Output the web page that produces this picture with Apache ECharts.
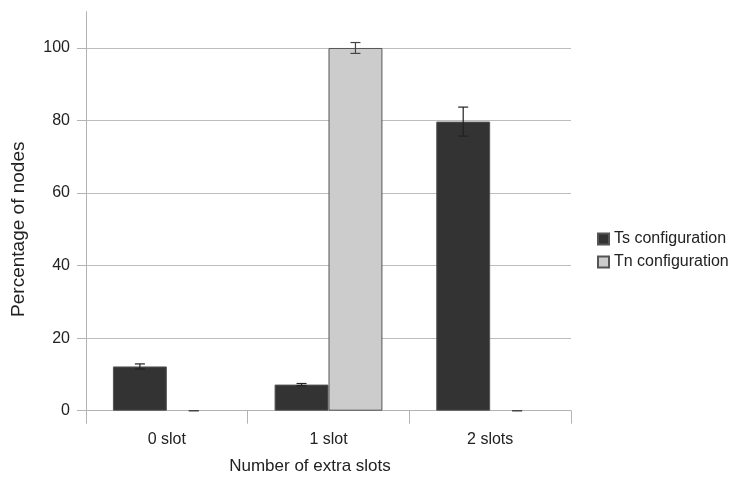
<!DOCTYPE html>
<html><head><meta charset="utf-8">
<script src="https://cdn.jsdelivr.net/npm/echarts@6/dist/echarts.min.js"></script>
<style>html,body{margin:0;padding:0;background:#fff}#c{width:729px;height:477px}</style>
</head><body><div id="c"></div>
<script>
var categories = ['0 slot', '1 slot', '2 slots'];
var tsValues = [12.2, 7.2, 79.7];
var tsErrors = [0.7, 0.3, 4.0];
var tnValues = [0, 100, 0];
var tnErrors = [0, 1.5, 0];
var seriesNames = ['Ts configuration', 'Tn configuration'];
var yTicks = [0, 20, 40, 60, 80, 100];

var FONT = 'Liberation Sans';
var GAP = 0.333;

function barData(values) {
  return values.map(function (v) {
    return v === 0 ? { value: v, itemStyle: { borderWidth: 0 } } : v;
  });
}

function errorSeries(values, errors, side, color) {
  return {
    type: 'custom',
    silent: true,
    z: 5,
    data: values.map(function (v, i) { return [i, v - errors[i], v + errors[i]]; }),
    renderItem: function (params, api) {
      var band = api.size([1, 0])[0];
      var bw = band * (1 - GAP) / 2;
      var lo = api.coord([api.value(0), api.value(1)]);
      var hi = api.coord([api.value(0), api.value(2)]);
      var x = lo[0] + side * bw / 2;
      var cap = 10;
      var st = { stroke: color, lineWidth: 1.2 };
      return { type: 'group', children: [
        { type: 'line', shape: { x1: x, y1: lo[1], x2: x, y2: hi[1] }, style: st },
        { type: 'line', shape: { x1: x - cap / 2, y1: lo[1], x2: x + cap / 2, y2: lo[1] }, style: st },
        { type: 'line', shape: { x1: x - cap / 2, y1: hi[1], x2: x + cap / 2, y2: hi[1] }, style: st }
      ]};
    }
  };
}

var chart = echarts.init(document.getElementById('c'));
chart.setOption({
  animation: false,
  backgroundColor: '#ffffff',
  textStyle: { fontFamily: FONT },
  grid: { left: 86, right: 158, top: 11.7, bottom: 66.3, containLabel: false, outerBoundsMode: 'none' },
  legend: {
    orient: 'vertical', left: 592, top: 226,
    itemWidth: 11, itemHeight: 11, itemGap: 7,
    icon: 'rect',
    textStyle: { fontFamily: FONT, fontSize: 16, color: '#222' },
    data: seriesNames
  },
  xAxis: {
    type: 'category', data: categories,
    name: 'Number of extra slots', nameLocation: 'middle', nameGap: 47,
    nameTextStyle: { fontFamily: FONT, fontSize: 17, color: '#222', padding: [0, 37, 0, 0] },
    axisLine: { lineStyle: { color: '#b3b3b3', width: 1 } },
    axisTick: { show: true, length: 13, lineStyle: { color: '#b3b3b3' } },
    axisLabel: { margin: 21, fontFamily: FONT, fontSize: 16, color: '#222' }
  },
  yAxis: {
    type: 'value', min: 0, max: 110, interval: 20,
    name: 'Percentage of nodes', nameLocation: 'middle', nameGap: 58,
    nameTextStyle: { fontFamily: FONT, fontSize: 19, color: '#222', padding: [0, 36, 0, 0] },
    axisLine: { show: true, lineStyle: { color: '#b3b3b3', width: 1 } },
    axisTick: { show: true, length: 9, lineStyle: { color: '#b3b3b3' } },
    axisLabel: { margin: 16, fontFamily: FONT, fontSize: 16, color: '#222', showMaxLabel: false,
      formatter: function (v) { return yTicks.indexOf(v) >= 0 ? String(v) : ''; } },
    splitLine: { show: true, showMaxLine: false, lineStyle: { color: '#bdbdbd', width: 1 } }
  },
  series: [
    { name: seriesNames[0], type: 'bar', data: barData(tsValues), barGap: '0%', barCategoryGap: '33.3%',
      itemStyle: { color: '#333333', borderColor: '#555555', borderWidth: 1 } },
    { name: seriesNames[1], type: 'bar', data: barData(tnValues), barGap: '0%', barCategoryGap: '33.3%',
      itemStyle: { color: '#cccccc', borderColor: '#555555', borderWidth: 1 } },
    errorSeries(tsValues, tsErrors, -1, '#222222'),
    errorSeries(tnValues, tnErrors, 1, '#444444')
  ]
});
</script></body></html>
